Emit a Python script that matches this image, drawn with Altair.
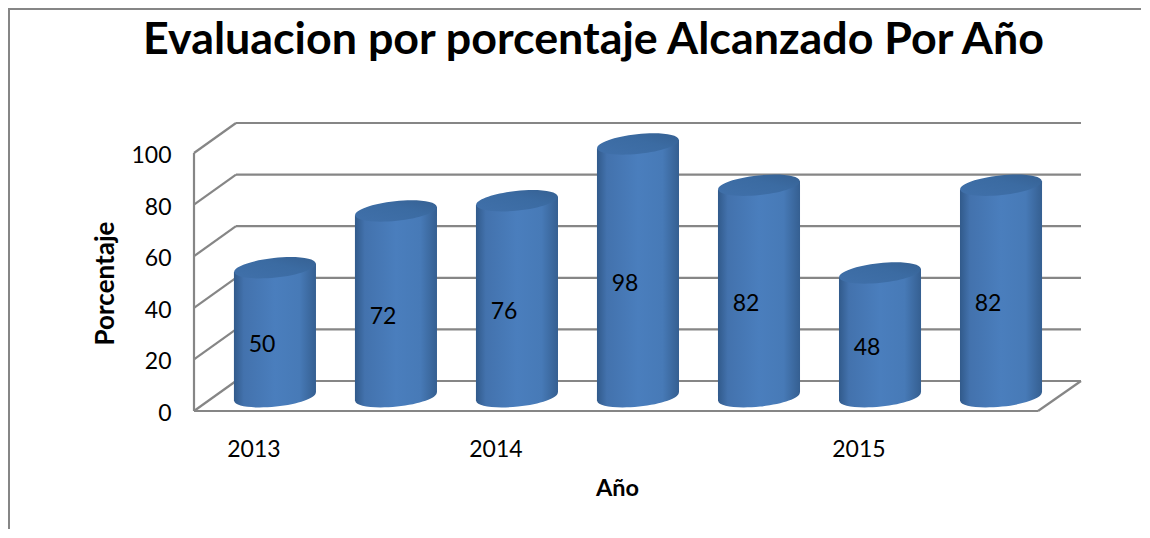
import altair as alt
import pandas as pd

title = "Evaluacion por porcentaje Alcanzado Por Año"
values = [50, 72, 76, 98, 82, 48, 82]
year_labels = ["2013", "2014", "2015"]
year_slots = [0, 2, 5]
ticks = [0, 20, 40, 60, 80, 100]

FONT = "Lato"
GRID = "#868686"
X_MIN, X_MAX = -0.669, 6.661
Y_MAX = 111.63
BACK_DX, BACK_DY = 0.347, 11.63
MID_DY = 5.5
HALF = 0.339
TILT = 1.67
FRONT_RIGHT = 6.306

idx = list(range(len(values)))
x_s = alt.Scale(domain=[X_MIN, X_MAX], nice=False, zero=False)
y_s = alt.Scale(domain=[0, Y_MAX], nice=False)

# wall and floor lines
rows = []
for v in ticks:
    rows.append(dict(x=X_MIN + BACK_DX, x2=X_MAX, y=v + BACK_DY, y2=v + BACK_DY))
    rows.append(dict(x=X_MIN, x2=X_MIN + BACK_DX, y=v, y2=v + BACK_DY))
rows.append(dict(x=X_MIN, x2=X_MIN, y=0, y2=100))
rows.append(dict(x=X_MIN, x2=FRONT_RIGHT, y=0, y2=0))
rows.append(dict(x=FRONT_RIGHT, x2=X_MAX, y=0, y2=BACK_DY))
grid_df = pd.DataFrame(rows)

# cylinder bodies
body = []
for k, v in zip(idx, values):
    body.append(dict(k=k, x=k - HALF, top=v + MID_DY - TILT, bot=MID_DY - TILT))
    body.append(dict(k=k, x=k + HALF, top=v + MID_DY + TILT, bot=MID_DY + TILT))
body_df = pd.DataFrame(body)
df = pd.DataFrame(dict(
    k=idx, v=values,
    top=[v + MID_DY for v in values],
    base=[MID_DY] * len(values),
    lx=[k - 0.107 for k in idx],
    ly=[v / 2 + 0.4 for v in values],
))
years_df = pd.DataFrame(dict(x=[s - 0.174 for s in year_slots], t=year_labels))

side = alt.LinearGradient(gradient="linear", x1=0, x2=1, y1=0, y2=0, stops=[
    alt.GradientStop(color="#315a8b", offset=0),
    alt.GradientStop(color="#4372ad", offset=0.12),
    alt.GradientStop(color="#4a7ebd", offset=0.5),
    alt.GradientStop(color="#477ab7", offset=0.8),
    alt.GradientStop(color="#355f91", offset=1),
])
cap = alt.LinearGradient(gradient="linear", x1=0, x2=1, y1=1, y2=0, stops=[
    alt.GradientStop(color="#4070aa", offset=0),
    alt.GradientStop(color="#3b6ba2", offset=0.6),
    alt.GradientStop(color="#366193", offset=1),
])
ELLIPSE = "M-0.995,0.105 A1,0.24 -6 1 1 0.995,-0.105 A1,0.24 -6 1 1 -0.995,0.105 Z"
E_SIZE = 82 * 82

frame_top = alt.Chart(pd.DataFrame({"a": [0]})).mark_rule(color=GRID, strokeWidth=2).encode(
    x=alt.value(-186), x2=alt.value(948), y=alt.value(-114))
frame_left = alt.Chart(pd.DataFrame({"a": [0]})).mark_rule(color=GRID, strokeWidth=2).encode(
    x=alt.value(-185), y=alt.value(-115), y2=alt.value(407))

grid = alt.Chart(grid_df).mark_rule(color=GRID, strokeWidth=2.2).encode(
    x=alt.X("x:Q", scale=x_s, axis=alt.Axis(
        title="Año", labels=False, ticks=False, domain=False, grid=False,
        titleFont=FONT, titleFontSize=23.5, titleFontWeight="bold", titleColor="black",
        titleX=423, titleY=77, titleBaseline="middle")),
    x2="x2:Q",
    y=alt.Y("y:Q", scale=y_s, axis=alt.Axis(
        title="Porcentaje", values=ticks, ticks=False, domain=False, grid=False,
        labelFont=FONT, labelFontSize=23, labelColor="black", labelPadding=23, labelOffset=2.5,
        titleFont=FONT, titleFontSize=26, titleFontWeight="bold", titleColor="black",
        titleX=-89, titleY=160, titleBaseline="middle")),
    y2="y2:Q",
)

bottoms = alt.Chart(df).mark_point(filled=True, opacity=1, fill=side, strokeWidth=0,
                                   shape=ELLIPSE, size=E_SIZE).encode(
    x=alt.X("k:Q", scale=x_s), y=alt.Y("base:Q", scale=y_s))
bodies = alt.Chart(body_df).mark_area(fill=side, opacity=1).encode(
    x=alt.X("x:Q", scale=x_s), y=alt.Y("top:Q", scale=y_s), y2="bot:Q", detail="k:N")
tops = alt.Chart(df).mark_point(filled=True, opacity=1, fill=cap, strokeWidth=0,
                                shape=ELLIPSE, size=E_SIZE).encode(
    x=alt.X("k:Q", scale=x_s), y=alt.Y("top:Q", scale=y_s))
labels = alt.Chart(df).mark_text(font=FONT, fontSize=23, color="black").encode(
    x=alt.X("lx:Q", scale=x_s), y=alt.Y("ly:Q", scale=y_s), text="v:Q")
years = alt.Chart(years_df).mark_text(font=FONT, fontSize=23, color="black").encode(
    x=alt.X("x:Q", scale=x_s), y=alt.value(327), text="t:N")

chart = alt.layer(frame_top, frame_left, grid, bottoms, bodies, tops, labels, years).properties(
    width=887, height=288,
    padding={"left": 186, "top": 115, "right": 60, "bottom": 118},
    autosize=alt.AutoSizeParams(type="none"),
    title=alt.TitleParams(title, font=FONT, fontSize=44.8, fontWeight="bold", color="black",
                          anchor="middle", dx=-44, offset=-57),
).configure_view(stroke=None).configure_axis(labelFontWeight="normal")

chart.save("out.html", embed_options={"renderer": "svg", "actions": False})
